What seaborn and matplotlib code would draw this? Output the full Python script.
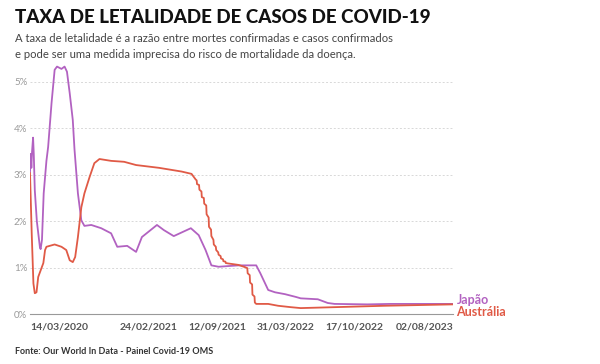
import pandas as pd
import seaborn as sns
import matplotlib.pyplot as plt

# Taxa de letalidade (%)
datas_japao = [
    '2020-03-14', '2020-03-16', '2020-03-18', '2020-03-20', '2020-03-23', '2020-03-25',
    '2020-03-28', '2020-04-03', '2020-04-12', '2020-04-14', '2020-04-18', '2020-04-23',
    '2020-05-01', '2020-05-06', '2020-05-16', '2020-05-25', '2020-06-01', '2020-06-14',
    '2020-06-23', '2020-06-30', '2020-07-08', '2020-07-17', '2020-07-22', '2020-08-01',
    '2020-08-11', '2020-08-20', '2020-09-09', '2020-10-08', '2020-11-06', '2020-11-24',
    '2020-12-23', '2021-01-18', '2021-02-04', '2021-03-20', '2021-04-09', '2021-05-08',
    '2021-06-27', '2021-07-20', '2021-08-09', '2021-08-26', '2021-09-16', '2021-11-13',
    '2022-01-04', '2022-01-16', '2022-02-08', '2022-02-28', '2022-03-29', '2022-04-30',
    '2022-05-14', '2022-07-03', '2022-08-01', '2022-08-21', '2022-11-25', '2023-01-30',
    '2023-08-02',
]
taxa_japao = [
    3.05, 3.45, 3.15, 3.5, 3.8, 3.45,
    2.67, 2.0, 1.44, 1.40, 1.6, 2.6,
    3.3, 3.6, 4.55, 5.26, 5.33, 5.28,
    5.33, 5.22, 4.76, 4.18, 3.55, 2.6,
    2.02, 1.9, 1.92, 1.85, 1.74, 1.45,
    1.47, 1.34, 1.66, 1.92, 1.81, 1.68,
    1.85, 1.7, 1.38, 1.05, 1.02, 1.05,
    1.05, 0.88, 0.52, 0.47, 0.43, 0.37,
    0.34, 0.32, 0.24, 0.22, 0.21, 0.22,
    0.22,
]

datas_australia = [
    '2020-03-14', '2020-03-19', '2020-03-24', '2020-03-28', '2020-04-02', '2020-04-07',
    '2020-04-12', '2020-04-22', '2020-04-27', '2020-05-01', '2020-05-25', '2020-06-14',
    '2020-06-28', '2020-07-08', '2020-07-17', '2020-07-24', '2020-08-01', '2020-08-11',
    '2020-08-20', '2020-09-04', '2020-09-18', '2020-10-03', '2020-11-06', '2020-12-14',
    '2021-01-18', '2021-03-26', '2021-05-31', '2021-06-29',
    '2021-07-11', '2021-07-14', '2021-07-15', '2021-07-21', '2021-07-22', '2021-07-28',
    '2021-07-29', '2021-08-04', '2021-08-05', '2021-08-11', '2021-08-12', '2021-08-18',
    '2021-08-19', '2021-08-25', '2021-08-26', '2021-09-01', '2021-09-02', '2021-09-08',
    '2021-09-09', '2021-09-15', '2021-09-16', '2021-09-22', '2021-09-23', '2021-09-29',
    '2021-09-30', '2021-10-06', '2021-10-07', '2021-10-15', '2021-11-13', '2021-12-03',
    '2021-12-09', '2021-12-10', '2021-12-16', '2021-12-17', '2021-12-23', '2021-12-24',
    '2021-12-30', '2021-12-31', '2022-01-04',
    '2022-02-08', '2022-03-09', '2022-04-15', '2022-05-14', '2022-08-21', '2023-01-13',
    '2023-08-02',
]
taxa_australia = [
    3.04, 1.74, 0.66, 0.45, 0.47, 0.8,
    0.9, 1.1, 1.38, 1.45, 1.5, 1.45,
    1.38, 1.16, 1.12, 1.23, 1.66, 2.3,
    2.6, 2.95, 3.25, 3.34, 3.3, 3.28,
    3.21, 3.15, 3.07, 3.02,
    2.9, 2.88, 2.80, 2.78, 2.68, 2.64,
    2.52, 2.50, 2.38, 2.34, 2.15, 2.08,
    1.88, 1.82, 1.68, 1.60, 1.50, 1.45,
    1.38, 1.33, 1.28, 1.25, 1.20, 1.18,
    1.14, 1.13, 1.10, 1.09, 1.06, 1.01,
    0.99, 0.88, 0.84, 0.68, 0.64, 0.42,
    0.38, 0.25, 0.22,
    0.22, 0.18, 0.15, 0.13, 0.15, 0.18,
    0.21,
]

rotulos_x = ['14/03/2020', '24/02/2021', '12/09/2021', '31/03/2022', '17/10/2022', '02/08/2023']

cor_japao = '#b262c1'
cor_australia = '#e05a46'

df = pd.concat([
    pd.DataFrame({'data': pd.to_datetime(datas_japao), 'taxa': taxa_japao, 'pais': 'Japão'}),
    pd.DataFrame({'data': pd.to_datetime(datas_australia), 'taxa': taxa_australia, 'pais': 'Austrália'}),
])

sns.set_theme(style='white')
plt.rcParams['font.family'] = ['Lato', 'DejaVu Sans']

fig = plt.figure(figsize=(6, 3.64), dpi=100)
ax = fig.add_axes([0.05, 0.137, 0.705, 0.689])

sns.lineplot(data=df, x='data', y='taxa', hue='pais', estimator=None,
             palette={'Japão': cor_japao, 'Austrália': cor_australia},
             linewidth=1.3, legend=False, ax=ax)

inicio = pd.Timestamp('2020-03-14')
fim = pd.Timestamp('2023-08-02')
ax.set_xlim(inicio, fim)
ax.set_ylim(0, 5.4)

# eixo y
ax.set_yticks([0, 1, 2, 3, 4, 5])
ax.set_yticklabels([f'{i}%' for i in range(6)], color='#9a9a9a', fontsize=7)
ax.tick_params(axis='y', length=0, pad=2)
ax.grid(axis='y', color='#d8d8d8', linestyle=(0, (2, 2)), linewidth=0.7)
ax.grid(axis='x', visible=False)

# eixo x
ax.set_xticks(pd.to_datetime(rotulos_x, format='%d/%m/%Y'))
ax.set_xticklabels(rotulos_x, fontsize=7.5, fontweight='bold', color='#555555')
labels = ax.get_xticklabels()
labels[0].set_horizontalalignment('left')
labels[-1].set_horizontalalignment('right')
ax.tick_params(axis='x', length=3, color='#999999', width=0.8, pad=3)

for lado in ['top', 'right', 'left']:
    ax.spines[lado].set_visible(False)
ax.spines['bottom'].set_color('#999999')
ax.spines['bottom'].set_linewidth(0.8)
ax.set_xlabel('')
ax.set_ylabel('')

# rótulos das séries
ax.text(fim + pd.Timedelta(days=10), 0.30, 'Japão', color=cor_japao, fontsize=9,
        fontweight='bold', va='center', ha='left', clip_on=False)
ax.text(fim + pd.Timedelta(days=10), 0.05, 'Austrália', color=cor_australia, fontsize=9,
        fontweight='bold', va='center', ha='left', clip_on=False)

# títulos
fig.text(0.025, 0.952, 'TAXA DE LETALIDADE DE CASOS DE COVID-19', fontsize=13.5,
         fontweight='black', color='#111111', va='center', ha='left')
fig.text(0.025, 0.895, 'A taxa de letalidade é a razão entre mortes confirmadas e casos confirmados',
         fontsize=8.1, color='#444444', va='center', ha='left')
fig.text(0.025, 0.85, 'e pode ser uma medida imprecisa do risco de mortalidade da doença.',
         fontsize=8.1, color='#444444', va='center', ha='left')
fig.text(0.025, 0.035, 'Fonte: Our World In Data - Painel Covid-19 OMS', fontsize=6.5,
         fontweight='bold', color='#333333', va='center', ha='left')

fig.savefig('out.png', dpi=100)
